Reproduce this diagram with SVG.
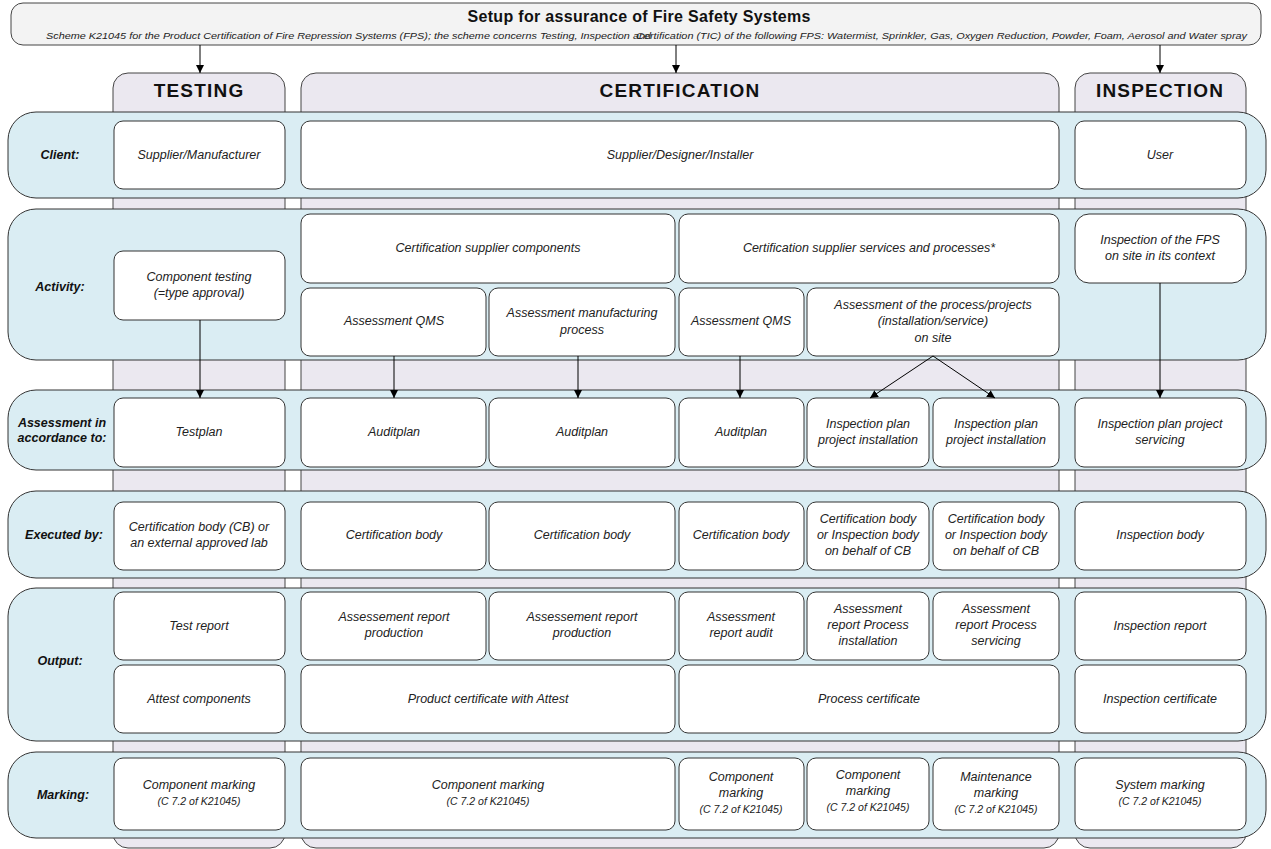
<svg xmlns="http://www.w3.org/2000/svg" width="1271" height="849" viewBox="0 0 1271 849">
<defs>
<marker id="ah" viewBox="0 0 10 10" refX="10" refY="5" markerWidth="8" markerHeight="8" markerUnits="userSpaceOnUse" orient="auto"><path d="M0,0 L10,5 L0,10 z" fill="#000"/></marker>
<style>
.col{fill:#ebe8f0;stroke:#444;stroke-width:1}
.row{fill:#daedf3;stroke:#333;stroke-width:1}
.box{fill:#fff;stroke:#333;stroke-width:1}
.t{font-family:"Liberation Sans",Arial,sans-serif;font-style:italic;font-size:12.5px;fill:#222;text-anchor:middle}
.s{font-size:10.5px}
.lbl{font-family:"Liberation Sans",Arial,sans-serif;font-style:italic;font-weight:bold;font-size:12.5px;fill:#111;text-anchor:middle}
.hd{font-family:"Liberation Sans",Arial,sans-serif;font-weight:bold;font-size:19px;fill:#111;text-anchor:middle;letter-spacing:1.2px}
.con{stroke:#000;stroke-width:1;fill:none;marker-end:url(#ah)}
</style>
</defs>
<rect width="1271" height="849" fill="#fff"/>
<g id="title">
<rect x="11" y="3" width="1250" height="42" rx="12" fill="#f3f3f3" stroke="#444"/>
<text x="639" y="22" font-family="Liberation Sans,Arial,sans-serif" font-weight="bold" font-size="16px" text-anchor="middle" fill="#111" textLength="343" lengthAdjust="spacing">Setup for assurance of Fire Safety Systems</text>
<text x="46" y="39" font-family="Liberation Sans,Arial,sans-serif" font-style="italic" font-size="9.5px" fill="#222" textLength="605" lengthAdjust="spacingAndGlyphs">Scheme K21045 for the Product Certification of Fire Repression Systems (FPS); the scheme concerns Testing, Inspection and</text>
<text x="636" y="39" font-family="Liberation Sans,Arial,sans-serif" font-style="italic" font-size="9.5px" fill="#222" textLength="611" lengthAdjust="spacingAndGlyphs">Certification (TIC) of the following FPS: Watermist, Sprinkler, Gas, Oxygen Reduction, Powder, Foam, Aerosol and Water spray</text>
</g>
<g id="columns">
<g id="col-testing"><rect class="col" x="113" y="73" width="172" height="775" rx="15"/><text class="hd" x="199" y="97">TESTING</text></g>
<g id="col-certification"><rect class="col" x="301" y="73" width="758" height="775" rx="15"/><text class="hd" x="680" y="97">CERTIFICATION</text></g>
<g id="col-inspection"><rect class="col" x="1075" y="73" width="171" height="775" rx="15"/><text class="hd" x="1160" y="97">INSPECTION</text></g>
</g>
<g id="rows">
<g id="row-client"><rect class="row" x="8" y="112" width="1258" height="86" rx="28"/><text class="lbl" x="60" y="159">Client:</text></g>
<g id="row-activity"><rect class="row" x="8" y="209" width="1258" height="151" rx="28"/><text class="lbl" x="60" y="291">Activity:</text></g>
<g id="row-assessment"><rect class="row" x="8" y="390" width="1258" height="80" rx="28"/><text class="lbl" x="62" y="427">Assessment in</text><text class="lbl" x="62" y="442">accordance to:</text></g>
<g id="row-executed"><rect class="row" x="8" y="491" width="1258" height="87" rx="28"/><text class="lbl" x="64" y="539">Executed by:</text></g>
<g id="row-output"><rect class="row" x="8" y="588" width="1258" height="153" rx="28"/><text class="lbl" x="60" y="665">Output:</text></g>
<g id="row-marking"><rect class="row" x="8" y="752" width="1258" height="86" rx="28"/><text class="lbl" x="63" y="799">Marking:</text></g>
</g>
<g id="n-client-sup"><rect class="box" x="114" y="121" width="171" height="68" rx="9"/><text class="t" x="199" y="159">Supplier/Manufacturer</text></g>
<g id="n-client-des"><rect class="box" x="301" y="121" width="758" height="68" rx="9"/><text class="t" x="680" y="159">Supplier/Designer/Installer</text></g>
<g id="n-client-user"><rect class="box" x="1075" y="121" width="171" height="68" rx="9"/><text class="t" x="1160" y="159">User</text></g>

<g id="n-act-comp"><rect class="box" x="114" y="251" width="171" height="69" rx="9"/><text class="t" x="199" y="281">Component testing</text><text class="t" x="199" y="297">(=type approval)</text></g>
<g id="n-act-csc"><rect class="box" x="301" y="214" width="374" height="69" rx="9"/><text class="t" x="488" y="252">Certification supplier components</text></g>
<g id="n-act-css"><rect class="box" x="679" y="214" width="380" height="69" rx="9"/><text class="t" x="869" y="252">Certification supplier services and processes*</text></g>
<g id="n-act-qms1"><rect class="box" x="301" y="288" width="185" height="68" rx="9"/><text class="t" x="394" y="325">Assessment QMS</text></g>
<g id="n-act-man"><rect class="box" x="489" y="288" width="186" height="68" rx="9"/><text class="t" x="582" y="317">Assessment manufacturing</text><text class="t" x="582" y="334">process</text></g>
<g id="n-act-qms2"><rect class="box" x="679" y="288" width="125" height="68" rx="9"/><text class="t" x="741" y="325">Assessment QMS</text></g>
<g id="n-act-proc"><rect class="box" x="807" y="288" width="252" height="68" rx="9"/><text class="t" x="933" y="309">Assessment of the process/projects</text><text class="t" x="933" y="325">(installation/service)</text><text class="t" x="933" y="342">on site</text></g>
<g id="n-act-insp"><rect class="box" x="1075" y="214" width="171" height="69" rx="14"/><text class="t" x="1160" y="244">Inspection of the FPS</text><text class="t" x="1160" y="260">on site in its context</text></g>

<g id="n-as-test"><rect class="box" x="114" y="398" width="171" height="69" rx="9"/><text class="t" x="199" y="436">Testplan</text></g>
<g id="n-as-audit1"><rect class="box" x="301" y="398" width="185" height="69" rx="9"/><text class="t" x="394" y="436">Auditplan</text></g>
<g id="n-as-audit2"><rect class="box" x="489" y="398" width="186" height="69" rx="9"/><text class="t" x="582" y="436">Auditplan</text></g>
<g id="n-as-audit3"><rect class="box" x="679" y="398" width="125" height="69" rx="9"/><text class="t" x="741" y="436">Auditplan</text></g>
<g id="n-as-ip1"><rect class="box" x="807" y="398" width="122" height="69" rx="9"/><text class="t" x="868" y="428">Inspection plan</text><text class="t" x="868" y="444">project installation</text></g>
<g id="n-as-ip2"><rect class="box" x="933" y="398" width="126" height="69" rx="9"/><text class="t" x="996" y="428">Inspection plan</text><text class="t" x="996" y="444">project installation</text></g>
<g id="n-as-ips"><rect class="box" x="1075" y="398" width="171" height="69" rx="9"/><text class="t" x="1160" y="428">Inspection plan project</text><text class="t" x="1160" y="444">servicing</text></g>

<g id="n-ex-cb0"><rect class="box" x="114" y="502" width="171" height="68" rx="9"/><text class="t" x="199" y="531">Certification body (CB) or</text><text class="t" x="199" y="547">an external approved lab</text></g>
<g id="n-ex-cb1"><rect class="box" x="301" y="502" width="185" height="68" rx="9"/><text class="t" x="394" y="539">Certification body</text></g>
<g id="n-ex-cb2"><rect class="box" x="489" y="502" width="186" height="68" rx="9"/><text class="t" x="582" y="539">Certification body</text></g>
<g id="n-ex-cb3"><rect class="box" x="679" y="502" width="125" height="68" rx="9"/><text class="t" x="741" y="539">Certification body</text></g>
<g id="n-ex-cb4"><rect class="box" x="807" y="502" width="122" height="68" rx="9"/><text class="t" x="868" y="523">Certification body</text><text class="t" x="868" y="539">or Inspection body</text><text class="t" x="868" y="555">on behalf of CB</text></g>
<g id="n-ex-cb5"><rect class="box" x="933" y="502" width="126" height="68" rx="9"/><text class="t" x="996" y="523">Certification body</text><text class="t" x="996" y="539">or Inspection body</text><text class="t" x="996" y="555">on behalf of CB</text></g>
<g id="n-ex-ib"><rect class="box" x="1075" y="502" width="171" height="68" rx="9"/><text class="t" x="1160" y="539">Inspection body</text></g>

<g id="n-out-tr"><rect class="box" x="114" y="592" width="171" height="68" rx="9"/><text class="t" x="199" y="630">Test report</text></g>
<g id="n-out-arp1"><rect class="box" x="301" y="592" width="185" height="68" rx="9"/><text class="t" x="394" y="621">Assessement report</text><text class="t" x="394" y="637">production</text></g>
<g id="n-out-arp2"><rect class="box" x="489" y="592" width="186" height="68" rx="9"/><text class="t" x="582" y="621">Assessement report</text><text class="t" x="582" y="637">production</text></g>
<g id="n-out-ara"><rect class="box" x="679" y="592" width="125" height="68" rx="9"/><text class="t" x="741" y="621">Assessment</text><text class="t" x="741" y="637">report audit</text></g>
<g id="n-out-arpi"><rect class="box" x="807" y="592" width="122" height="68" rx="9"/><text class="t" x="868" y="613">Assessment</text><text class="t" x="868" y="629">report Process</text><text class="t" x="868" y="645">installation</text></g>
<g id="n-out-arps"><rect class="box" x="933" y="592" width="126" height="68" rx="9"/><text class="t" x="996" y="613">Assessment</text><text class="t" x="996" y="629">report Process</text><text class="t" x="996" y="645">servicing</text></g>
<g id="n-out-ir"><rect class="box" x="1075" y="592" width="171" height="68" rx="9"/><text class="t" x="1160" y="630">Inspection report</text></g>
<g id="n-out-ac"><rect class="box" x="114" y="665" width="171" height="68" rx="9"/><text class="t" x="199" y="703">Attest components</text></g>
<g id="n-out-pc"><rect class="box" x="301" y="665" width="374" height="68" rx="9"/><text class="t" x="488" y="703">Product certificate with Attest</text></g>
<g id="n-out-prc"><rect class="box" x="679" y="665" width="380" height="68" rx="9"/><text class="t" x="869" y="703">Process certificate</text></g>
<g id="n-out-ic"><rect class="box" x="1075" y="665" width="171" height="68" rx="9"/><text class="t" x="1160" y="703">Inspection certificate</text></g>

<g id="n-mk-1"><rect class="box" x="114" y="758" width="171" height="72" rx="9"/><text class="t" x="199" y="789">Component marking</text><text class="t s" x="199" y="805">(C 7.2 of K21045)</text></g>
<g id="n-mk-2"><rect class="box" x="301" y="758" width="374" height="72" rx="9"/><text class="t" x="488" y="789">Component marking</text><text class="t s" x="488" y="805">(C 7.2 of K21045)</text></g>
<g id="n-mk-3"><rect class="box" x="679" y="758" width="125" height="72" rx="9"/><text class="t" x="741" y="781">Component</text><text class="t" x="741" y="797">marking</text><text class="t s" x="741" y="813">(C 7.2 of K21045)</text></g>
<g id="n-mk-4"><rect class="box" x="807" y="758" width="122" height="72" rx="9"/><text class="t" x="868" y="779">Component</text><text class="t" x="868" y="795">marking</text><text class="t s" x="868" y="811">(C 7.2 of K21045)</text></g>
<g id="n-mk-5"><rect class="box" x="933" y="758" width="126" height="72" rx="9"/><text class="t" x="996" y="781">Maintenance</text><text class="t" x="996" y="797">marking</text><text class="t s" x="996" y="813">(C 7.2 of K21045)</text></g>
<g id="n-mk-6"><rect class="box" x="1075" y="758" width="171" height="72" rx="9"/><text class="t" x="1160" y="789">System marking</text><text class="t s" x="1160" y="805">(C 7.2 of K21045)</text></g>

<g id="connectors">
<line class="con" x1="200" y1="45" x2="200" y2="73"/>
<line class="con" x1="676" y1="45" x2="676" y2="73"/>
<line class="con" x1="1160" y1="45" x2="1160" y2="73"/>
<line class="con" x1="200" y1="320" x2="200" y2="398"/>
<line class="con" x1="394" y1="356" x2="394" y2="398"/>
<line class="con" x1="578" y1="356" x2="578" y2="398"/>
<line class="con" x1="740" y1="356" x2="740" y2="398"/>
<line class="con" x1="933" y1="356" x2="870" y2="398"/>
<line class="con" x1="933" y1="356" x2="995" y2="398"/>
<line class="con" x1="1160" y1="283" x2="1160" y2="398"/>
</g>
</svg>
